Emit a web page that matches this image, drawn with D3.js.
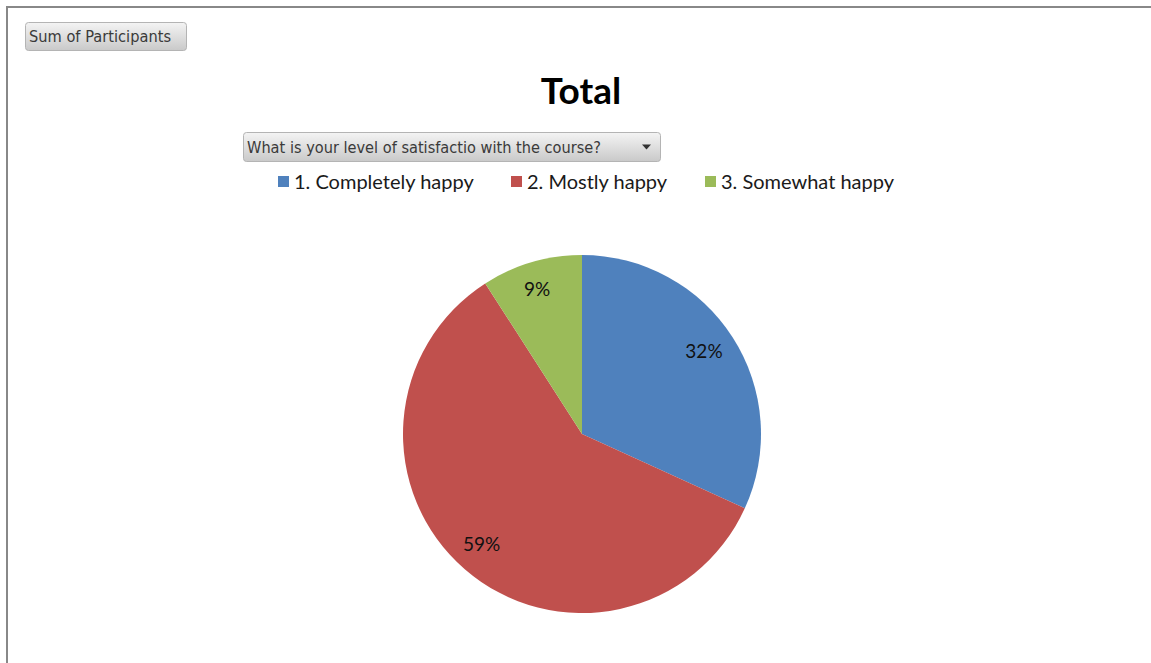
<!DOCTYPE html>
<html>
<head>
<meta charset="utf-8">
<script src="https://cdn.jsdelivr.net/npm/d3@7"></script>
<style>
  html, body { margin: 0; padding: 0; background: #fff; }
  svg { display: block; }
</style>
</head>
<body>
<svg id="chart" width="1151" height="663"></svg>
<script>
// Pivot chart: participants by satisfaction level
const categories = ["1. Completely happy", "2. Mostly happy", "3. Somewhat happy"];
const participants = [7, 13, 2];
const colors = ["#4F81BD", "#C0504D", "#9BBB59"];
const title = "Total";
const valueField = "Sum of Participants";
const axisField = "What is your level of satisfactio with the course?";

const W = 1151, H = 663;
const svg = d3.select("#chart");

const defs = svg.append("defs");
const grad = defs.append("linearGradient").attr("id", "btn").attr("x1", 0).attr("y1", 0).attr("x2", 0).attr("y2", 1);
grad.append("stop").attr("offset", "0%").attr("stop-color", "#f4f4f4");
grad.append("stop").attr("offset", "100%").attr("stop-color", "#c9c9c9");

// frame
svg.append("path")
  .attr("d", `M7,${H} V7 H${W}`)
  .attr("fill", "none").attr("stroke", "#888").attr("stroke-width", 2);

// field buttons
function fieldButton(x, y, w, h, label, textW, dropdown) {
  const g = svg.append("g").attr("transform", `translate(${x},${y})`);
  g.append("rect").attr("x", 0.5).attr("y", 0.5).attr("width", w).attr("height", h)
    .attr("rx", 3).attr("fill", "url(#btn)").attr("stroke", "#b4b4b4");
  g.append("text").attr("x", 4).attr("y", h / 2 + 6)
    .attr("font-family", "'DejaVu Sans', sans-serif").attr("font-size", 15.5)
    .attr("fill", "#3a3a3a").attr("textLength", textW).attr("lengthAdjust", "spacingAndGlyphs")
    .text(label);
  if (dropdown) {
    g.append("path").attr("d", `M${w - 18},${h / 2 - 2} h9 l-4.5,5 z`).attr("fill", "#333");
  }
}
fieldButton(25, 22, 161, 28, valueField, 142, false);
fieldButton(243, 132, 417, 29, axisField, 354, true);

// title
svg.append("text").attr("x", 581).attr("y", 104).attr("text-anchor", "middle")
  .attr("font-family", "Lato, 'Open Sans', sans-serif").attr("font-weight", "bold")
  .attr("font-size", 37).attr("fill", "#000").text(title);

// legend
const legendX = [278, 511, 705];
const legend = svg.append("g");
categories.forEach((c, i) => {
  legend.append("rect").attr("x", legendX[i]).attr("y", 176).attr("width", 11).attr("height", 11)
    .attr("fill", colors[i]);
  legend.append("text").attr("x", legendX[i] + 16).attr("y", 189)
    .attr("font-family", "Lato, sans-serif").attr("font-size", 20).attr("fill", "#1a1a1a")
    .text(c);
});

// pie
const cx = 582, cy = 434, R = 179;
const total = d3.sum(participants);
const pie = d3.pie().sort(null).value(d => d)(participants);
const arc = d3.arc().innerRadius(0).outerRadius(R);
const labelArc = d3.arc().innerRadius(R * 0.83).outerRadius(R * 0.83);
const g = svg.append("g").attr("transform", `translate(${cx},${cy})`);
g.selectAll("path.slice").data(pie).join("path").attr("class", "slice")
  .attr("d", arc).attr("fill", (d, i) => colors[i]);
g.selectAll("text.lbl").data(pie).join("text").attr("class", "lbl")
  .attr("transform", d => {
    const [x, y] = labelArc.centroid(d);
    return `translate(${x - 3},${y - 2})`;
  })
  .attr("text-anchor", "middle").attr("dy", "0.35em")
  .attr("font-family", "Lato, sans-serif").attr("font-size", 19).attr("fill", "#111")
  .text(d => Math.round(d.data / total * 100) + "%");
</script>
</body>
</html>
